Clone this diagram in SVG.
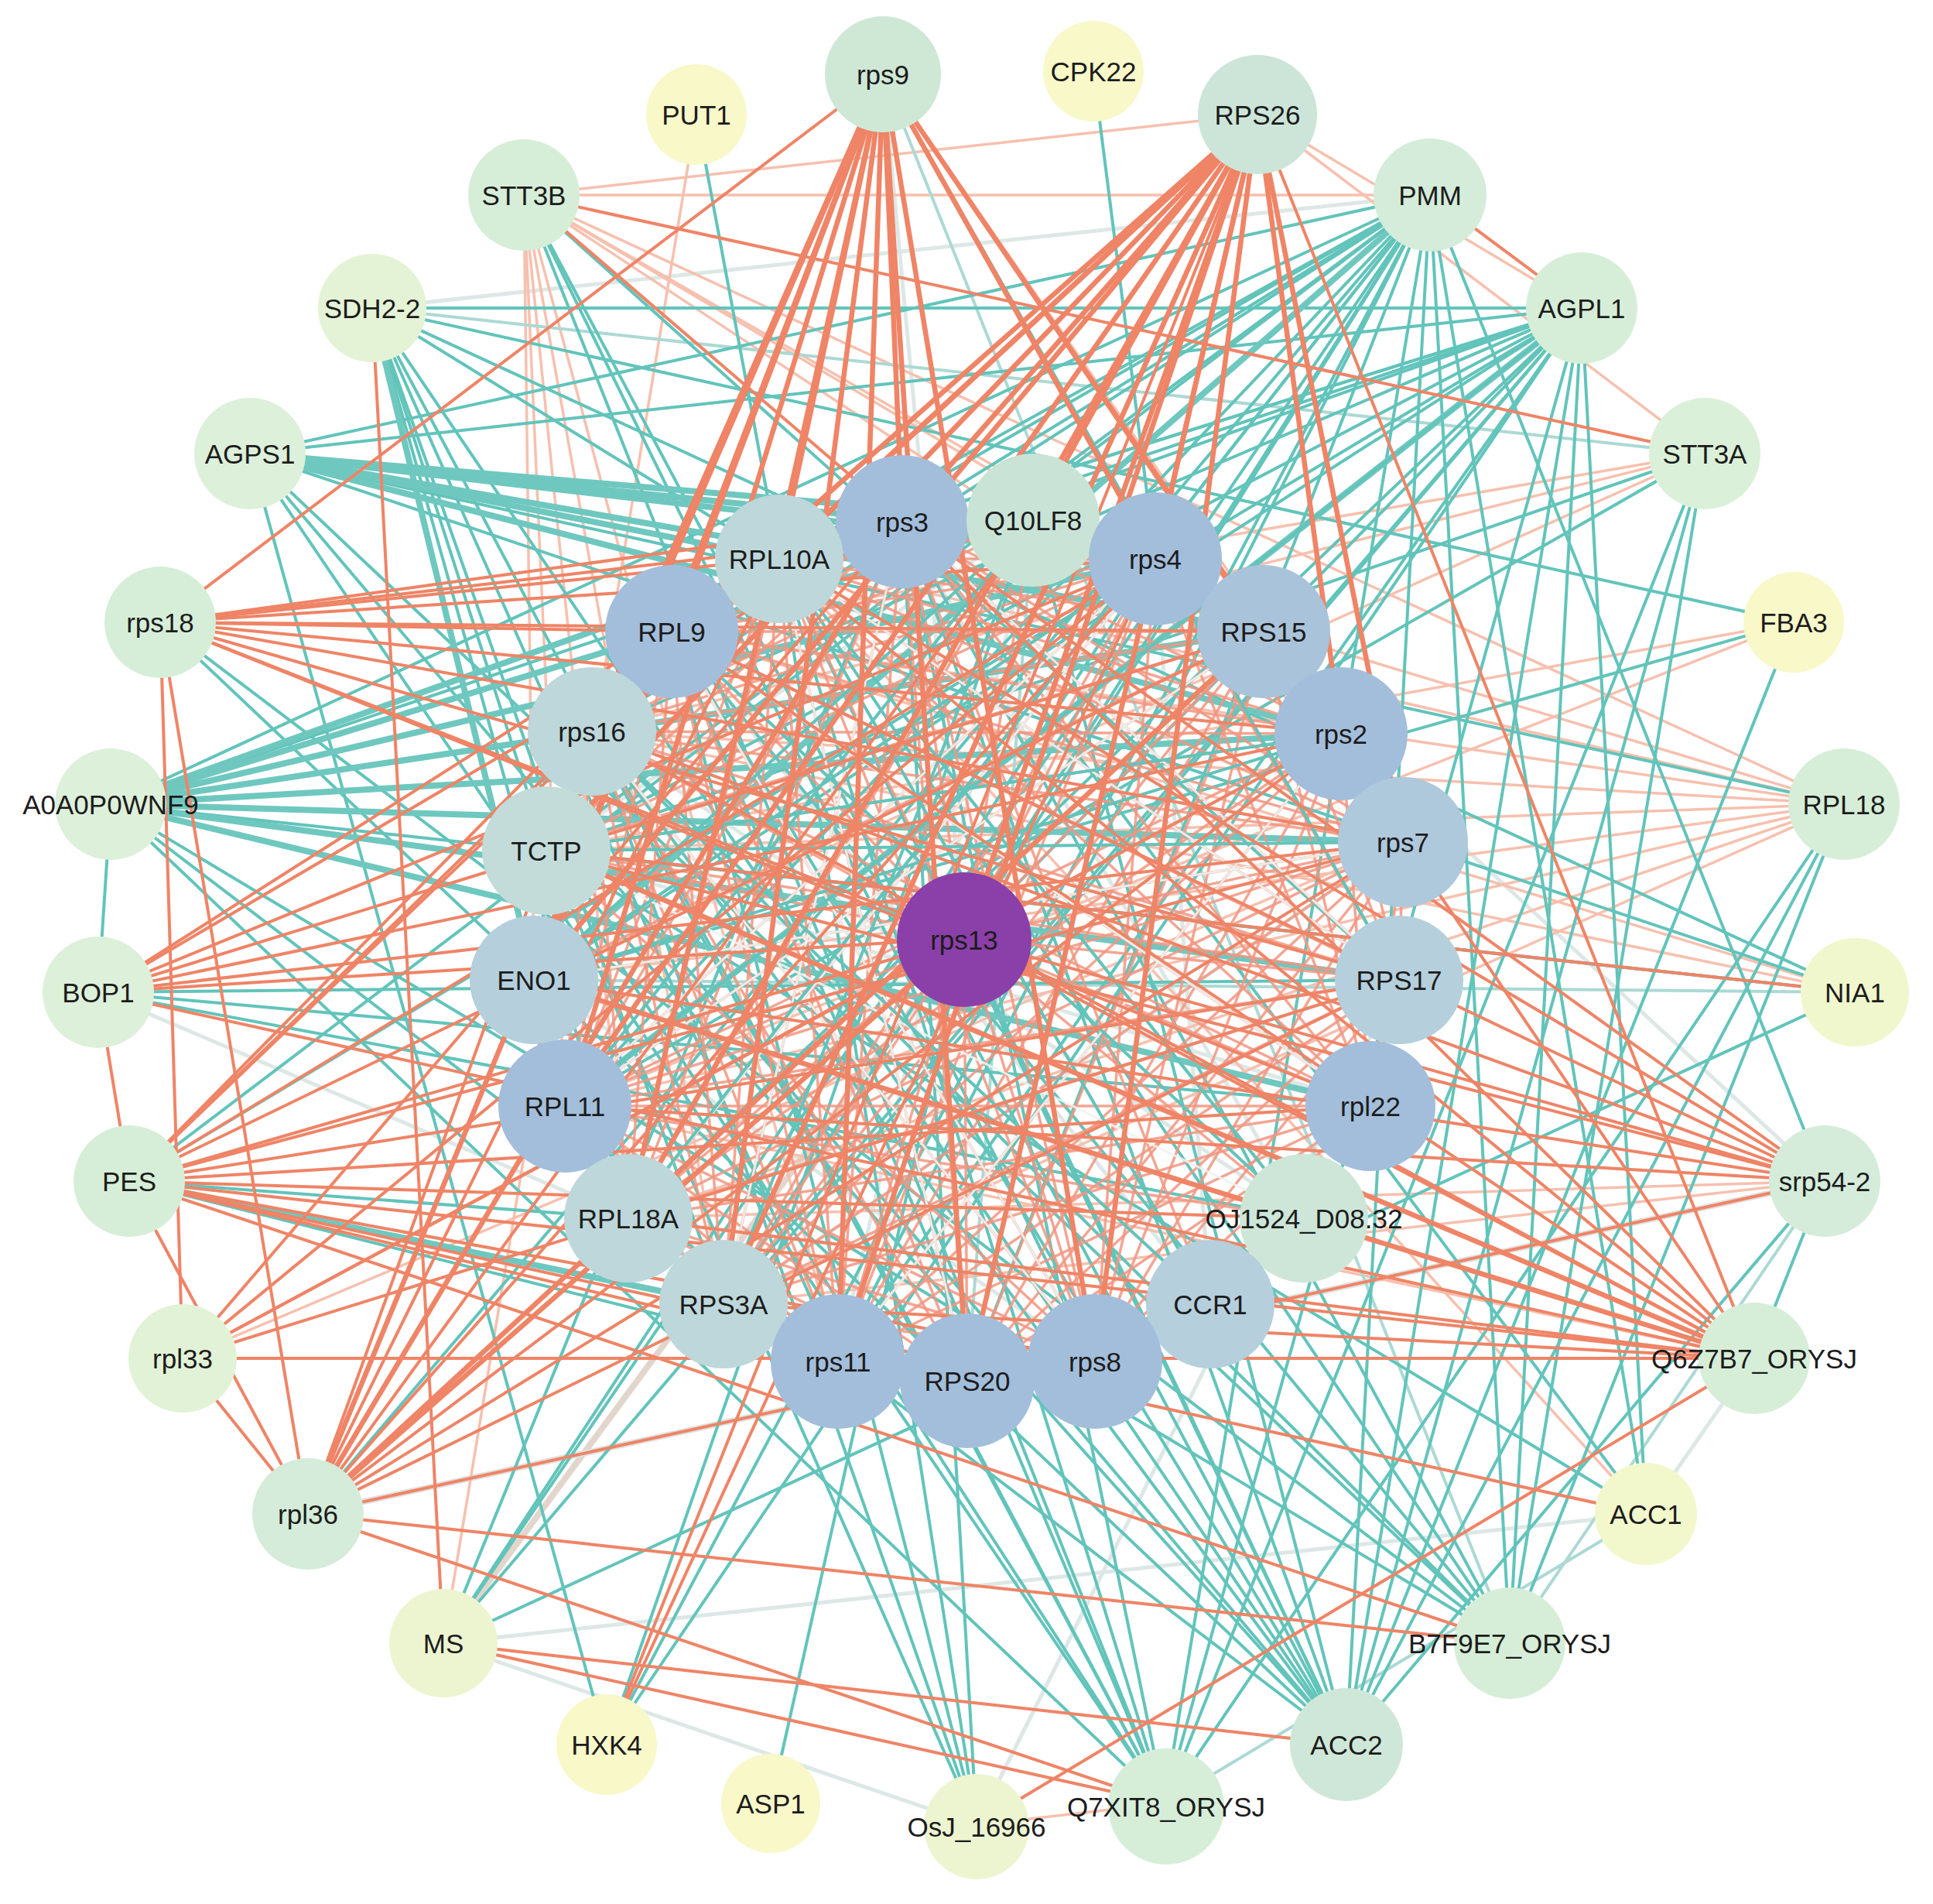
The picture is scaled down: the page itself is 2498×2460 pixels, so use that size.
<svg xmlns="http://www.w3.org/2000/svg" width="2498" height="2460" viewBox="0 0 2498 2460">
<style>
path{fill:none}
.sc path{stroke:#f29580;stroke-width:3.5;opacity:.85}
.sa path{stroke:#ef8466;stroke-width:4}
.sb path{stroke:#ef8466;stroke-width:6.5}
.sl path{stroke:#f7c0ae;stroke-width:3.5}
.ta path{stroke:#62c4bb;stroke-width:4}
.tb path{stroke:#6fc8bf;stroke-width:8}
.tl path{stroke:#acd9d4;stroke-width:4}
.pl path{stroke:#dde8e6;stroke-width:5}
.wl path{stroke:#eef3f1;stroke-width:3;opacity:.9}
.n text{font-family:"Liberation Sans",Arial,sans-serif;font-size:35px;fill:#1c1c1c;text-anchor:middle;dominant-baseline:central}
.g{fill:#d6eed8}.y{fill:#f8f8c9}.yg{fill:#ecf5d0}.b{fill:#a3bedb}.lb{fill:#b5cfdc}.lt{fill:#bdd7da}.lg{fill:#c9e4d6}.m{fill:#cde6d8}
</style>
<rect width="2498" height="2460" fill="#ffffff"/>
<g id="connectors">
<g class="pl">
<path d="M706 1099L1771 1429"/><path d="M690 1266L1415 1757"/><path d="M1335 672L1083 1757"/><path d="M1685 1574L765 945"/><path d="M1141 96L1246 1212"/><path d="M1564 1685L868 816"/><path d="M1335 672L706 1099"/><path d="M1685 1574L1166 672"/><path d="M573 2123L2127 1956"/><path d="M573 2123L1262 2358"/><path d="M1262 2358L1808 1266"/><path d="M2127 1956L2267 1755"/><path d="M127 1282L812 1574"/><path d="M2358 1526L1733 948"/><path d="M481 398L1848 252"/><path d="M1564 1685L1493 722"/><path d="M935 1685L1813 1088"/><path d="M573 2123L1246 1212" style="stroke:#e2d6cc;stroke-width:8"/><path d="M398 1956L2358 1526" style="stroke:#e0e2e0;stroke-width:8"/>
</g>
<g class="sl">
<path d="M677 252L1848 252"/><path d="M677 252L1625 148"/><path d="M677 252L1493 722"/><path d="M677 252L1633 816"/><path d="M677 252L1733 948"/><path d="M677 252L2383 1039"/><path d="M677 252L730 1429"/><path d="M677 252L812 1574"/><path d="M677 252L935 1685"/><path d="M677 252L690 1266"/><path d="M677 252L1083 1757"/><path d="M2383 1039L868 816"/><path d="M2383 1039L765 945"/><path d="M2383 1039L706 1099"/><path d="M2383 1039L690 1266"/><path d="M2383 1039L730 1429"/><path d="M2383 1039L812 1574"/><path d="M2383 1039L935 1685"/><path d="M2383 1039L1007 722"/><path d="M2383 1039L1166 672"/><path d="M2203 586L868 816"/><path d="M2203 586L765 945"/><path d="M2203 586L690 1266"/><path d="M2318 804L706 1099"/><path d="M2318 804L730 1429"/><path d="M2397 1282L868 816"/><path d="M2397 1282L765 945"/><path d="M236 1755L1813 1088"/><path d="M1505 2330L1262 2358"/><path d="M1625 148L2203 586"/><path d="M1141 96L1733 948"/><path d="M1141 96L1813 1088"/><path d="M1625 148L2044 398"/><path d="M2358 1526L812 1574"/><path d="M2358 1526L935 1685"/><path d="M2267 1755L730 1429"/><path d="M2127 1956L1007 722"/><path d="M573 2123L900 148"/>
</g>
<g class="tl">
<path d="M1625 148L765 945"/><path d="M1141 96L1951 2123"/><path d="M2358 1526L1951 2123"/><path d="M2127 1956L1505 2330"/><path d="M1335 672L1250 1784"/><path d="M690 1266L2397 1282"/><path d="M481 398L2203 586"/>
</g>
<g class="ta">
<path d="M1848 252L1166 672"/><path d="M1848 252L1007 722"/><path d="M1848 252L868 816"/><path d="M1848 252L765 945"/><path d="M1848 252L706 1099"/><path d="M1848 252L690 1266"/><path d="M1848 252L730 1429"/><path d="M1848 252L812 1574"/><path d="M1848 252L935 1685"/><path d="M1848 252L1083 1757"/><path d="M1848 252L1250 1784"/><path d="M1848 252L1246 1212"/><path d="M1848 252L323 586"/><path d="M1848 252L143 1039"/><path d="M1848 252L167 1526"/><path d="M1848 252L398 1956"/><path d="M1848 252L573 2123"/><path d="M1848 252L784 2254"/>
<path d="M2044 398L1166 672"/><path d="M2044 398L1007 722"/><path d="M2044 398L868 816"/><path d="M2044 398L765 945"/><path d="M2044 398L706 1099"/><path d="M2044 398L690 1266"/><path d="M2044 398L812 1574"/><path d="M2044 398L935 1685"/><path d="M2044 398L1083 1757"/><path d="M2044 398L1246 1212"/><path d="M2044 398L143 1039"/><path d="M2044 398L323 586"/><path d="M2044 398L167 1526"/><path d="M2044 398L481 398"/><path d="M2044 398L1740 2254"/>
<path d="M323 586L2383 1039"/><path d="M323 586L1740 2254"/><path d="M323 586L1951 2123"/><path d="M323 586L2397 1282"/><path d="M323 586L784 2254"/>
<path d="M481 398L1007 722"/><path d="M481 398L706 1099"/><path d="M481 398L690 1266"/><path d="M481 398L730 1429"/><path d="M481 398L812 1574"/><path d="M481 398L935 1685"/><path d="M481 398L1083 1757"/><path d="M481 398L1740 2254"/><path d="M481 398L1505 2330"/>
<path d="M143 1039L127 1282"/><path d="M143 1039L1505 2330"/><path d="M143 1039L1740 2254"/>
<path d="M1740 2254L1166 672"/><path d="M1740 2254L1007 722"/><path d="M1740 2254L868 816"/><path d="M1740 2254L765 945"/><path d="M1740 2254L706 1099"/><path d="M1740 2254L207 804"/><path d="M1740 2254L1246 1212"/><path d="M1740 2254L1848 252"/><path d="M1740 2254L1335 672"/>
<path d="M1951 2123L1166 672"/><path d="M1951 2123L1007 722"/><path d="M1951 2123L868 816"/><path d="M1951 2123L765 945"/><path d="M1951 2123L2044 398"/><path d="M1951 2123L1848 252"/><path d="M1951 2123L207 804"/><path d="M1951 2123L143 1039"/>
<path d="M1505 2330L1166 672"/><path d="M1505 2330L1007 722"/><path d="M1505 2330L868 816"/><path d="M1505 2330L765 945"/><path d="M1505 2330L706 1099"/><path d="M1505 2330L323 586"/><path d="M1505 2330L1848 252"/><path d="M1505 2330L2044 398"/>
<path d="M1262 2358L1166 672"/><path d="M1262 2358L1007 722"/><path d="M1262 2358L868 816"/><path d="M1262 2358L706 1099"/><path d="M1262 2358L765 945"/>
<path d="M996 2330L1246 1212"/><path d="M784 2254L2044 398"/><path d="M784 2254L1335 672"/><path d="M573 2123L2044 398"/><path d="M573 2123L2397 1282"/><path d="M573 2123L1493 722"/><path d="M573 2123L1166 672"/>
<path d="M2127 1956L1848 252"/><path d="M2127 1956L706 1099"/><path d="M2127 1956L2044 398"/><path d="M2127 1956L1166 672"/>
<path d="M2397 1282L143 1039"/><path d="M2397 1282L706 1099"/><path d="M2397 1282L481 398"/><path d="M2318 804L481 398"/><path d="M2318 804L690 1266"/><path d="M2318 804L1740 2254"/>
<path d="M2203 586L1740 2254"/><path d="M2203 586L1951 2123"/><path d="M2203 586L1505 2330"/><path d="M2203 586L706 1099"/><path d="M2203 586L730 1429"/>
<path d="M1413 92L1493 722"/><path d="M900 148L1007 722"/><path d="M677 252L1740 2254"/><path d="M677 252L1505 2330"/><path d="M677 252L1808 1266"/><path d="M677 252L1415 1757"/>
<path d="M2383 1039L1740 2254"/><path d="M2383 1039L1951 2123"/><path d="M2383 1039L1505 2330"/><path d="M2358 1526L1740 2254"/><path d="M2358 1526L2267 1755"/><path d="M2358 1526L1848 252"/>
<path d="M127 1282L1808 1266"/><path d="M127 1282L1771 1429"/><path d="M127 1282L1685 1574"/><path d="M167 1526L1083 1757"/><path d="M167 1526L812 1574"/>
</g>
<g class="tb">
<path d="M143 1039L1166 672"/><path d="M143 1039L1335 672"/><path d="M143 1039L1493 722"/><path d="M143 1039L1633 816"/><path d="M143 1039L1733 948"/><path d="M143 1039L1813 1088"/><path d="M143 1039L1808 1266"/><path d="M143 1039L1771 1429"/>
<path d="M323 586L1166 672"/><path d="M323 586L1007 722"/><path d="M323 586L1335 672"/><path d="M323 586L1493 722"/><path d="M323 586L1633 816"/><path d="M323 586L1733 948"/>
<path d="M167 1526L935 1685"/><path d="M1848 252L690 1266"/><path d="M2044 398L730 1429"/><path d="M481 398L730 1429"/>
</g>
<g class="sc">
<path d="M1166 672L1007 722"/><path d="M1166 672L1493 722"/><path d="M1166 672L868 816"/><path d="M1166 672L1633 816"/><path d="M1166 672L765 945"/><path d="M1166 672L1733 948"/><path d="M1166 672L1813 1088"/><path d="M1166 672L1808 1266"/><path d="M1166 672L730 1429"/><path d="M1166 672L1771 1429"/><path d="M1166 672L812 1574"/><path d="M1166 672L935 1685"/><path d="M1166 672L1083 1757"/><path d="M1166 672L1250 1784"/><path d="M1166 672L1415 1757"/><path d="M1166 672L1246 1212"/>
<path d="M1007 722L1493 722"/><path d="M1007 722L868 816"/><path d="M1007 722L1633 816"/><path d="M1007 722L765 945"/><path d="M1007 722L1733 948"/><path d="M1007 722L1813 1088"/><path d="M1007 722L1808 1266"/><path d="M1007 722L730 1429"/><path d="M1007 722L1771 1429"/><path d="M1007 722L812 1574"/><path d="M1007 722L935 1685"/><path d="M1007 722L1083 1757"/><path d="M1007 722L1250 1784"/><path d="M1007 722L1415 1757"/><path d="M1007 722L1246 1212"/>
<path d="M1493 722L868 816"/><path d="M1493 722L1633 816"/><path d="M1493 722L765 945"/><path d="M1493 722L1733 948"/><path d="M1493 722L1813 1088"/><path d="M1493 722L1808 1266"/><path d="M1493 722L730 1429"/><path d="M1493 722L1771 1429"/><path d="M1493 722L812 1574"/><path d="M1493 722L935 1685"/><path d="M1493 722L1083 1757"/><path d="M1493 722L1250 1784"/><path d="M1493 722L1415 1757"/><path d="M1493 722L1246 1212"/>
<path d="M868 816L1633 816"/><path d="M868 816L765 945"/><path d="M868 816L1733 948"/><path d="M868 816L1813 1088"/><path d="M868 816L1808 1266"/><path d="M868 816L730 1429"/><path d="M868 816L1771 1429"/><path d="M868 816L812 1574"/><path d="M868 816L935 1685"/><path d="M868 816L1083 1757"/><path d="M868 816L1250 1784"/><path d="M868 816L1415 1757"/><path d="M868 816L1246 1212"/>
<path d="M1633 816L765 945"/><path d="M1633 816L1733 948"/><path d="M1633 816L1813 1088"/><path d="M1633 816L1808 1266"/><path d="M1633 816L730 1429"/><path d="M1633 816L1771 1429"/><path d="M1633 816L812 1574"/><path d="M1633 816L935 1685"/><path d="M1633 816L1083 1757"/><path d="M1633 816L1250 1784"/><path d="M1633 816L1415 1757"/><path d="M1633 816L1246 1212"/>
<path d="M765 945L1733 948"/><path d="M765 945L1813 1088"/><path d="M765 945L1808 1266"/><path d="M765 945L730 1429"/><path d="M765 945L1771 1429"/><path d="M765 945L812 1574"/><path d="M765 945L935 1685"/><path d="M765 945L1083 1757"/><path d="M765 945L1250 1784"/><path d="M765 945L1415 1757"/><path d="M765 945L1246 1212"/>
<path d="M1733 948L1813 1088"/><path d="M1733 948L1808 1266"/><path d="M1733 948L730 1429"/><path d="M1733 948L1771 1429"/><path d="M1733 948L812 1574"/><path d="M1733 948L935 1685"/><path d="M1733 948L1083 1757"/><path d="M1733 948L1250 1784"/><path d="M1733 948L1415 1757"/><path d="M1733 948L1246 1212"/>
<path d="M1813 1088L1808 1266"/><path d="M1813 1088L730 1429"/><path d="M1813 1088L1771 1429"/><path d="M1813 1088L812 1574"/><path d="M1813 1088L935 1685"/><path d="M1813 1088L1083 1757"/><path d="M1813 1088L1250 1784"/><path d="M1813 1088L1415 1757"/><path d="M1813 1088L1246 1212"/>
<path d="M1808 1266L730 1429"/><path d="M1808 1266L1771 1429"/><path d="M1808 1266L812 1574"/><path d="M1808 1266L935 1685"/><path d="M1808 1266L1083 1757"/><path d="M1808 1266L1250 1784"/><path d="M1808 1266L1415 1757"/><path d="M1808 1266L1246 1212"/>
<path d="M730 1429L1771 1429"/><path d="M730 1429L812 1574"/><path d="M730 1429L935 1685"/><path d="M730 1429L1083 1757"/><path d="M730 1429L1250 1784"/><path d="M730 1429L1415 1757"/><path d="M730 1429L1246 1212"/>
<path d="M1771 1429L812 1574"/><path d="M1771 1429L935 1685"/><path d="M1771 1429L1083 1757"/><path d="M1771 1429L1250 1784"/><path d="M1771 1429L1415 1757"/><path d="M1771 1429L1246 1212"/>
<path d="M812 1574L935 1685"/><path d="M812 1574L1083 1757"/><path d="M812 1574L1250 1784"/><path d="M812 1574L1415 1757"/><path d="M812 1574L1246 1212"/>
<path d="M935 1685L1083 1757"/><path d="M935 1685L1250 1784"/><path d="M935 1685L1415 1757"/><path d="M935 1685L1246 1212"/>
<path d="M1083 1757L1250 1784"/><path d="M1083 1757L1415 1757"/><path d="M1083 1757L1246 1212"/><path d="M1250 1784L1415 1757"/><path d="M1250 1784L1246 1212"/><path d="M1415 1757L1246 1212"/>
<path d="M1335 672L1007 722"/><path d="M1335 672L868 816"/><path d="M1335 672L765 945"/><path d="M1335 672L730 1429"/><path d="M1335 672L812 1574"/><path d="M1335 672L1246 1212"/>
<path d="M706 1099L1166 672"/><path d="M706 1099L1493 722"/><path d="M706 1099L1633 816"/><path d="M706 1099L1733 948"/><path d="M706 1099L1808 1266"/><path d="M706 1099L1415 1757"/><path d="M706 1099L1246 1212"/>
<path d="M1685 1574L1007 722"/><path d="M1685 1574L868 816"/><path d="M1685 1574L730 1429"/><path d="M1685 1574L1246 1212"/><path d="M1564 1685L1166 672"/><path d="M1564 1685L765 945"/><path d="M1564 1685L1007 722"/><path d="M690 1266L1493 722"/><path d="M690 1266L1813 1088"/><path d="M690 1266L1633 816"/>
</g>
<g class="wl">
<path d="M765 945L1415 1757"/><path d="M1166 672L1808 1266"/><path d="M868 816L1771 1429"/><path d="M1493 722L812 1574"/><path d="M1007 722L1250 1784"/><path d="M1633 816L730 1429"/><path d="M1335 672L935 1685"/><path d="M706 1099L1685 1574"/><path d="M1813 1088L690 1266"/><path d="M1733 948L1083 1757"/><path d="M1007 722L1808 1266"/><path d="M868 816L1415 1757"/><path d="M1493 722L730 1429"/><path d="M1166 672L935 1685"/>
</g>
<g class="ta">
<path d="M1335 672L730 1429"/><path d="M1335 672L935 1685"/><path d="M1335 672L690 1266"/><path d="M706 1099L1733 948"/><path d="M706 1099L1813 1088"/><path d="M690 1266L1493 722"/><path d="M690 1266L1733 948"/><path d="M1685 1574L1007 722"/><path d="M1685 1574L868 816"/><path d="M1564 1685L1007 722"/><path d="M1564 1685L765 945"/><path d="M1141 96L1808 1266"/><path d="M2044 398L730 1429"/><path d="M1848 252L812 1574"/>
</g>
<g class="sa">
<path d="M207 804L1166 672"/><path d="M207 804L1007 722"/><path d="M207 804L1493 722"/><path d="M207 804L1633 816"/><path d="M207 804L1733 948"/><path d="M207 804L1813 1088"/><path d="M207 804L1808 1266"/><path d="M207 804L1246 1212"/><path d="M207 804L868 816"/><path d="M207 804L1335 672"/><path d="M207 804L1771 1429"/><path d="M207 804L398 1956"/><path d="M207 804L236 1755"/>
<path d="M127 1282L1166 672"/><path d="M127 1282L1007 722"/><path d="M127 1282L1493 722"/><path d="M127 1282L1633 816"/><path d="M127 1282L1733 948"/><path d="M127 1282L1813 1088"/><path d="M127 1282L1246 1212"/><path d="M127 1282L167 1526"/>
<path d="M167 1526L1007 722"/><path d="M167 1526L868 816"/><path d="M167 1526L765 945"/><path d="M167 1526L1813 1088"/><path d="M167 1526L1808 1266"/><path d="M167 1526L1771 1429"/><path d="M167 1526L1685 1574"/><path d="M167 1526L1250 1784"/><path d="M167 1526L1246 1212"/><path d="M167 1526L2267 1755"/><path d="M167 1526L1415 1757"/><path d="M167 1526L1493 722"/><path d="M167 1526L1633 816"/><path d="M167 1526L398 1956"/>
<path d="M236 1755L1166 672"/><path d="M236 1755L1493 722"/><path d="M236 1755L1733 948"/><path d="M236 1755L1246 1212"/><path d="M236 1755L1808 1266"/><path d="M236 1755L2267 1755"/><path d="M236 1755L398 1956"/>
<path d="M398 1956L1007 722"/><path d="M398 1956L1493 722"/><path d="M398 1956L1633 816"/><path d="M398 1956L765 945"/><path d="M398 1956L1733 948"/><path d="M398 1956L1813 1088"/><path d="M398 1956L1808 1266"/><path d="M398 1956L1335 672"/><path d="M398 1956L2358 1526"/>
<path d="M2358 1526L1007 722"/><path d="M2358 1526L868 816"/><path d="M2358 1526L765 945"/><path d="M2358 1526L706 1099"/><path d="M2358 1526L690 1266"/><path d="M2358 1526L730 1429"/><path d="M2358 1526L1246 1212"/><path d="M2358 1526L1166 672"/>
<path d="M2267 1755L1007 722"/><path d="M2267 1755L868 816"/><path d="M2267 1755L765 945"/><path d="M2267 1755L812 1574"/><path d="M2267 1755L935 1685"/><path d="M2267 1755L1166 672"/><path d="M2267 1755L1246 1212"/><path d="M2267 1755L127 1282"/><path d="M2267 1755L1141 96"/><path d="M2267 1755L1625 148"/>
<path d="M1141 96L207 804"/><path d="M573 2123L1740 2254"/><path d="M573 2123L481 398"/><path d="M784 2254L1493 722"/><path d="M784 2254L1625 148"/><path d="M1505 2330L573 2123"/><path d="M1505 2330L398 1956"/><path d="M1262 2358L2267 1755"/><path d="M2127 1956L167 1526"/><path d="M1951 2123L398 1956"/><path d="M1951 2123L167 1526"/><path d="M2397 1282L706 1099"/><path d="M1848 252L2044 398"/><path d="M677 252L2203 586"/><path d="M677 252L1166 672"/>
</g>
<g class="sb">
<path d="M1141 96L1166 672"/><path d="M1141 96L1007 722"/><path d="M1141 96L868 816"/><path d="M1141 96L765 945"/><path d="M1141 96L706 1099"/><path d="M1141 96L730 1429"/><path d="M1141 96L812 1574"/><path d="M1141 96L935 1685"/><path d="M1141 96L1083 1757"/><path d="M1141 96L1250 1784"/><path d="M1141 96L1493 722"/><path d="M1141 96L1633 816"/><path d="M1141 96L1415 1757"/><path d="M1141 96L690 1266"/>
<path d="M1625 148L1166 672"/><path d="M1625 148L1007 722"/><path d="M1625 148L868 816"/><path d="M1625 148L765 945"/><path d="M1625 148L706 1099"/><path d="M1625 148L690 1266"/><path d="M1625 148L730 1429"/><path d="M1625 148L812 1574"/><path d="M1625 148L935 1685"/><path d="M1625 148L1083 1757"/><path d="M1625 148L1250 1784"/><path d="M1625 148L1246 1212"/><path d="M1625 148L1335 672"/><path d="M1625 148L1493 722"/><path d="M1625 148L1733 948"/><path d="M1625 148L1415 1757"/><path d="M1625 148L1813 1088"/>
<path d="M398 1956L1166 672"/><path d="M398 1956L868 816"/><path d="M398 1956L1246 1212"/><path d="M398 1956L1633 816"/><path d="M2267 1755L706 1099"/><path d="M2267 1755L690 1266"/>
</g>
</g>
<g id="nodes">
<g id="n-rps9" class="n"><circle cx="1141" cy="96" r="75" fill="#cfe8d6"/><text x="1141" y="96">rps9</text></g>
<g id="n-PUT1" class="n"><circle cx="900" cy="148" r="65" class="y"/><text x="900" y="148">PUT1</text></g>
<g id="n-CPK22" class="n"><circle cx="1413" cy="92" r="65" class="y"/><text x="1413" y="92">CPK22</text></g>
<g id="n-RPS26" class="n"><circle cx="1625" cy="148" r="77" fill="#cce5d8"/><text x="1625" y="148">RPS26</text></g>
<g id="n-STT3B" class="n"><circle cx="677" cy="252" r="72" class="g"/><text x="677" y="252">STT3B</text></g>
<g id="n-PMM" class="n"><circle cx="1848" cy="252" r="73" fill="#d4ecd9"/><text x="1848" y="252">PMM</text></g>
<g id="n-SDH2-2" class="n"><circle cx="481" cy="398" r="70" fill="#e4f3d5"/><text x="481" y="398">SDH2-2</text></g>
<g id="n-AGPL1" class="n"><circle cx="2044" cy="398" r="72" class="g"/><text x="2044" y="398">AGPL1</text></g>
<g id="n-AGPS1" class="n"><circle cx="323" cy="586" r="72" fill="#dcf0da"/><text x="323" y="586">AGPS1</text></g>
<g id="n-STT3A" class="n"><circle cx="2203" cy="586" r="72" fill="#dbf0d8"/><text x="2203" y="586">STT3A</text></g>
<g id="n-rps18" class="n"><circle cx="207" cy="804" r="72" class="g"/><text x="207" y="804">rps18</text></g>
<g id="n-FBA3" class="n"><circle cx="2318" cy="804" r="65" class="y"/><text x="2318" y="804">FBA3</text></g>
<g id="n-A0A0P0WNF9" class="n"><circle cx="143" cy="1039" r="72" fill="#ddf0da"/><text x="143" y="1039">A0A0P0WNF9</text></g>
<g id="n-RPL18" class="n"><circle cx="2383" cy="1039" r="72" class="g"/><text x="2383" y="1039">RPL18</text></g>
<g id="n-BOP1" class="n"><circle cx="127" cy="1282" r="72" fill="#ddf0da"/><text x="127" y="1282">BOP1</text></g>
<g id="n-NIA1" class="n"><circle cx="2397" cy="1282" r="70" fill="#f1f7cc"/><text x="2397" y="1282">NIA1</text></g>
<g id="n-PES" class="n"><circle cx="167" cy="1526" r="72" class="g"/><text x="167" y="1526">PES</text></g>
<g id="n-srp54-2" class="n"><circle cx="2358" cy="1526" r="72" fill="#d4ecd9"/><text x="2358" y="1526">srp54-2</text></g>
<g id="n-rpl33" class="n"><circle cx="236" cy="1755" r="70" fill="#e2f2d6"/><text x="236" y="1755">rpl33</text></g>
<g id="n-Q6Z7B7_ORYSJ" class="n"><circle cx="2267" cy="1755" r="72" class="g"/><text x="2267" y="1755">Q6Z7B7_ORYSJ</text></g>
<g id="n-rpl36" class="n"><circle cx="398" cy="1956" r="72" fill="#d4ecd9"/><text x="398" y="1956">rpl36</text></g>
<g id="n-ACC1" class="n"><circle cx="2127" cy="1956" r="66" fill="#f2f8cc"/><text x="2127" y="1956">ACC1</text></g>
<g id="n-MS" class="n"><circle cx="573" cy="2123" r="70" class="yg"/><text x="573" y="2123">MS</text></g>
<g id="n-B7F9E7_ORYSJ" class="n"><circle cx="1951" cy="2123" r="72" class="g"/><text x="1951" y="2123">B7F9E7_ORYSJ</text></g>
<g id="n-HXK4" class="n"><circle cx="784" cy="2254" r="65" class="y"/><text x="784" y="2254">HXK4</text></g>
<g id="n-ACC2" class="n"><circle cx="1740" cy="2254" r="73" fill="#cfe7d8"/><text x="1740" y="2254">ACC2</text></g>
<g id="n-ASP1" class="n"><circle cx="996" cy="2330" r="64" class="y"/><text x="996" y="2330">ASP1</text></g>
<g id="n-OsJ_16966" class="n"><circle cx="1262" cy="2360" r="68" class="yg"/><text x="1262" y="2360">OsJ_16966</text></g>
<g id="n-Q7XIT8_ORYSJ" class="n"><circle cx="1507" cy="2334" r="75" class="g"/><text x="1507" y="2334">Q7XIT8_ORYSJ</text></g>
<g id="n-rps3" class="n"><circle cx="1166" cy="674" r="86" class="b"/><text x="1166" y="674">rps3</text></g>
<g id="n-Q10LF8" class="n"><circle cx="1335" cy="672" r="86" class="lg"/><text x="1335" y="672">Q10LF8</text></g>
<g id="n-RPL10A" class="n"><circle cx="1007" cy="722" r="83" class="lt"/><text x="1007" y="722">RPL10A</text></g>
<g id="n-rps4" class="n"><circle cx="1493" cy="722" r="86" class="b"/><text x="1493" y="722">rps4</text></g>
<g id="n-RPL9" class="n"><circle cx="868" cy="816" r="86" class="b"/><text x="868" y="816">RPL9</text></g>
<g id="n-RPS15" class="n"><circle cx="1633" cy="816" r="86" fill="#a9c3da"/><text x="1633" y="816">RPS15</text></g>
<g id="n-rps16" class="n"><circle cx="765" cy="945" r="83" class="lt"/><text x="765" y="945">rps16</text></g>
<g id="n-rps2" class="n"><circle cx="1733" cy="948" r="86" class="b"/><text x="1733" y="948">rps2</text></g>
<g id="n-TCTP" class="n"><circle cx="706" cy="1099" r="83" fill="#c3dcda"/><text x="706" y="1099">TCTP</text></g>
<g id="n-rps7" class="n"><circle cx="1813" cy="1088" r="84" fill="#aec8dc"/><text x="1813" y="1088">rps7</text></g>
<g id="n-rps13" class="n"><circle cx="1246" cy="1214" r="87" fill="#8b3fa8"/><text x="1246" y="1214">rps13</text></g>
<g id="n-ENO1" class="n"><circle cx="690" cy="1266" r="83" class="lb"/><text x="690" y="1266">ENO1</text></g>
<g id="n-RPS17" class="n"><circle cx="1808" cy="1266" r="83" class="lb"/><text x="1808" y="1266">RPS17</text></g>
<g id="n-RPL11" class="n"><circle cx="730" cy="1429" r="86" class="b"/><text x="730" y="1429">RPL11</text></g>
<g id="n-rpl22" class="n"><circle cx="1771" cy="1429" r="84" class="b"/><text x="1771" y="1429">rpl22</text></g>
<g id="n-RPL18A" class="n"><circle cx="812" cy="1574" r="83" class="lt"/><text x="812" y="1574">RPL18A</text></g>
<g id="n-OJ1524_D08.32" class="n"><circle cx="1685" cy="1574" r="83" class="m"/><text x="1685" y="1574">OJ1524_D08.32</text></g>
<g id="n-RPS3A" class="n"><circle cx="935" cy="1685" r="83" class="lt"/><text x="935" y="1685">RPS3A</text></g>
<g id="n-CCR1" class="n"><circle cx="1564" cy="1685" r="83" class="lb"/><text x="1564" y="1685">CCR1</text></g>
<g id="n-rps11" class="n"><circle cx="1083" cy="1759" r="87" class="b"/><text x="1083" y="1759">rps11</text></g>
<g id="n-RPS20" class="n"><circle cx="1250" cy="1784" r="87" class="b"/><text x="1250" y="1784">RPS20</text></g>
<g id="n-rps8" class="n"><circle cx="1415" cy="1759" r="87" class="b"/><text x="1415" y="1759">rps8</text></g>
</g>
</svg>
